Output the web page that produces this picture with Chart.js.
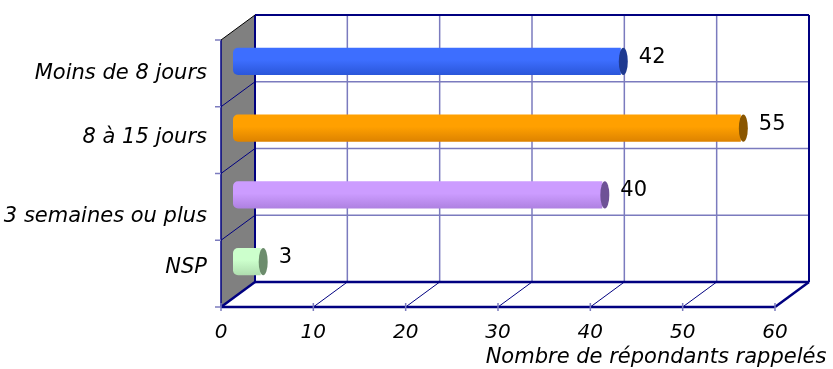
<!DOCTYPE html>
<html>
<head>
<meta charset="utf-8">
<script src="https://cdn.jsdelivr.net/npm/chart.js@4/dist/chart.umd.min.js"></script>
<style>
  html, body { margin: 0; padding: 0; background: #fff; }
  #wrap { width: 833px; height: 369px; }
</style>
</head>
<body>
<div id="wrap"><canvas id="c" width="833" height="369"></canvas></div>
<script>
// Délai de rappel des répondants
const categories = ['Moins de 8 jours', '8 à 15 jours', '3 semaines ou plus', 'NSP'];
const values = [42, 55, 40, 3];
const xTicks = [0, 10, 20, 30, 40, 50, 60];
const axisTitle = 'Nombre de répondants rappelés';

// Bar shading: top, bottom, end cap
const barTop = ['#3D6EFF', '#FFA000', '#CC9CFF', '#CCFFCC'];
const barBottom = ['#2A56D8', '#DC8200', '#AD80E0', '#AEDCAE'];
const barCap = ['#1F3A90', '#8A5600', '#6E5296', '#6C8C6C'];

// Depth offsets of the front and back planes relative to the bar plane
const FRONT = { dx: -12, dy: 12 };
const BACK = { dx: 22, dy: -13 };
const NAVY = '#000080';
const GRID = '#7B7BBE';
const LABEL_FONT = 'italic 21px "DejaVu Sans"';
const TICK_FONT = 'italic 20px "DejaVu Sans"';
const labelShift = [0, -3, 10, -6];

function barGradient(ctx) {
  const chart = ctx.chart;
  const i = ctx.dataIndex;
  if (!chart.chartArea || i === undefined) return barTop[i || 0];
  const y = chart.scales.y.getPixelForValue(i);
  const h = 14;
  const g = chart.ctx.createLinearGradient(0, y - h, 0, y + h);
  g.addColorStop(0, barTop[i]);
  g.addColorStop(0.45, barTop[i]);
  g.addColorStop(1, barBottom[i]);
  return g;
}

const frame3d = {
  id: 'frame3d',
  beforeDatasetsDraw(chart) {
    const ctx = chart.ctx;
    const xs = chart.scales.x, ys = chart.scales.y;
    const area = chart.chartArea;
    const band = (area.bottom - area.top) / categories.length;
    const xMin = xTicks[0], xMax = xTicks[xTicks.length - 1];
    const fx = v => xs.getPixelForValue(v) + FRONT.dx;
    const bx = v => xs.getPixelForValue(v) + BACK.dx;
    const fy = k => area.top + k * band + FRONT.dy;
    const by = k => area.top + k * band + BACK.dy;
    const n = categories.length;

    function line(x1, y1, x2, y2, color, w) {
      ctx.beginPath();
      ctx.moveTo(x1, y1);
      ctx.lineTo(x2, y2);
      ctx.strokeStyle = color;
      ctx.lineWidth = w;
      ctx.stroke();
    }

    ctx.save();
    // side wall
    ctx.beginPath();
    ctx.moveTo(fx(xMin), fy(0));
    ctx.lineTo(bx(xMin), by(0));
    ctx.lineTo(bx(xMin), by(n));
    ctx.lineTo(fx(xMin), fy(n));
    ctx.closePath();
    ctx.fillStyle = '#808080';
    ctx.fill();

    // back wall grid
    xTicks.slice(1, -1).forEach(v => line(bx(v), by(0), bx(v), by(n), GRID, 1.5));
    for (let k = 1; k < n; k++) line(bx(xMin), by(k), bx(xMax), by(k), GRID, 1.5);

    // floor grid
    xTicks.slice(1, -1).forEach(v => line(fx(v), fy(n), bx(v), by(n), NAVY, 1));
    // side wall grid
    for (let k = 1; k < n; k++) line(fx(xMin), fy(k), bx(xMin), by(k), NAVY, 1);

    // frame edges
    line(bx(xMin), by(0), bx(xMax), by(0), NAVY, 2);
    line(bx(xMax), by(0), bx(xMax), by(n), NAVY, 2);
    line(bx(xMin), by(n), bx(xMax), by(n), NAVY, 2.5);
    line(bx(xMin), by(0), bx(xMin), by(n), NAVY, 2);
    line(fx(xMin), fy(n), fx(xMax), fy(n), NAVY, 2.5);
    line(fx(xMax), fy(n), bx(xMax), by(n), NAVY, 2.5);
    line(fx(xMin), fy(n), bx(xMin), by(n), NAVY, 2.5);
    line(fx(xMin), fy(0), fx(xMin), fy(n), NAVY, 1.5);
    line(fx(xMin), fy(0), bx(xMin), by(0), '#000', 1);

    // tick marks
    xTicks.forEach(v => line(fx(v), fy(n) - 4, fx(v), fy(n) + 4, GRID, 1.5));
    for (let k = 0; k <= n; k++) line(fx(xMin) - 6, fy(k), fx(xMin), fy(k), GRID, 1.5);

    // tick labels
    ctx.fillStyle = '#000';
    ctx.font = TICK_FONT;
    ctx.textAlign = 'center';
    ctx.textBaseline = 'middle';
    xTicks.forEach(v => ctx.fillText(String(v), fx(v), fy(n) + 26));

    // category labels
    ctx.font = LABEL_FONT;
    ctx.textAlign = 'right';
    categories.forEach((c, i) => {
      ctx.fillText(c, fx(xMin) - 14, ys.getPixelForValue(i) + FRONT.dy + labelShift[i]);
    });

    // axis title
    ctx.textAlign = 'center';
    ctx.fillText(axisTitle, 656, fy(n) + 51);
    ctx.restore();
  },
  afterDatasetsDraw(chart) {
    const ctx = chart.ctx;
    const meta = chart.getDatasetMeta(0);
    ctx.save();
    meta.data.forEach((bar, i) => {
      const h = bar.height;
      // end cap of the cylinder
      ctx.beginPath();
      ctx.ellipse(bar.x + 2.5, bar.y, 4.5, h / 2, 0, 0, Math.PI * 2);
      ctx.fillStyle = barCap[i];
      ctx.fill();
      // value label
      ctx.fillStyle = '#000';
      ctx.font = '21px "DejaVu Sans"';
      ctx.textAlign = 'left';
      ctx.textBaseline = 'middle';
      ctx.fillText(String(values[i]), bar.x + 18, bar.y - 4);
    });
    ctx.restore();
  }
};

new Chart(document.getElementById('c'), {
  type: 'bar',
  data: {
    labels: categories,
    datasets: [{
      data: values,
      backgroundColor: barGradient,
      borderWidth: 0,
      borderRadius: { topLeft: 5, bottomLeft: 5, topRight: 0, bottomRight: 0 },
      borderSkipped: false,
      barPercentage: 0.41,
      categoryPercentage: 1
    }]
  },
  options: {
    indexAxis: 'y',
    responsive: false,
    animation: false,
    devicePixelRatio: 1,
    layout: { padding: { left: 233, right: 46, top: 28, bottom: 74 } },
    plugins: { legend: { display: false }, tooltip: { enabled: false } },
    scales: {
      x: { display: false, min: 0, max: 60, ticks: { stepSize: 10 } },
      y: { display: false }
    }
  },
  plugins: [frame3d]
});
</script>
</body>
</html>
